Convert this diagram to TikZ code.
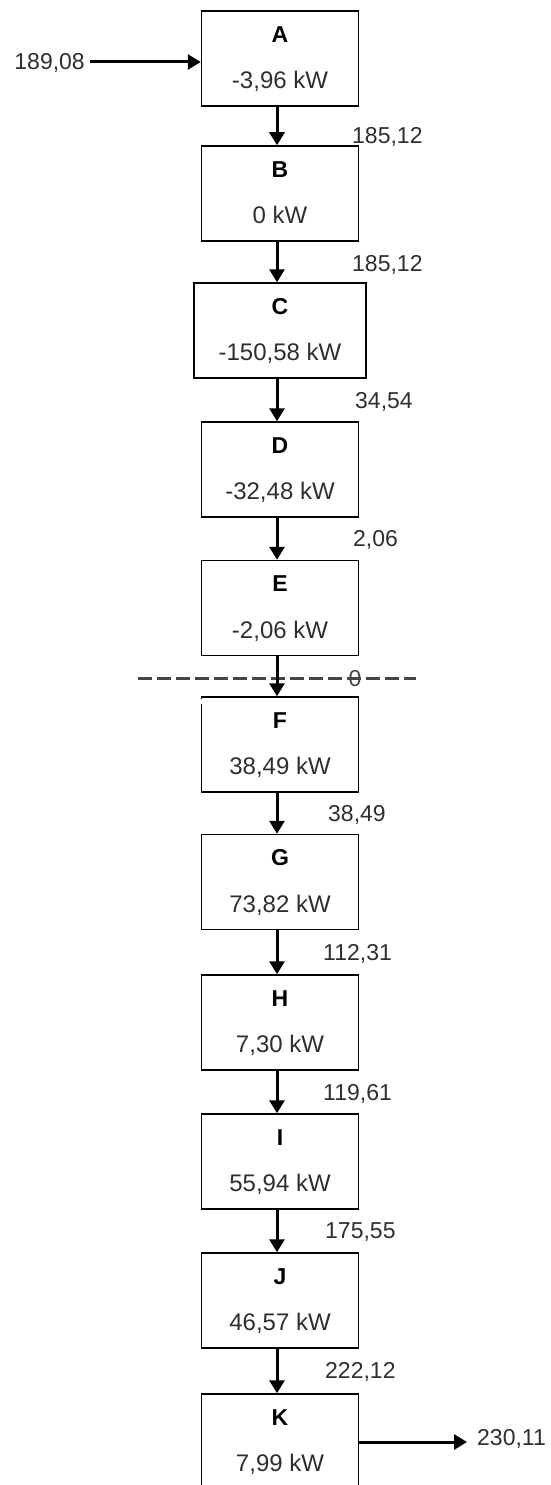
\documentclass[tikz,border=0pt]{standalone}
\usepackage{fontspec}
\setmainfont{Liberation Sans}
\usetikzlibrary{arrows.meta,calc}
\definecolor{txtgray}{HTML}{2E2E2E}
\definecolor{cutgray}{HTML}{454545}
\begin{document}
\begin{tikzpicture}[x=1pt,y=-1pt,
  box/.style={draw=black,line width=1.5pt,minimum width=157pt,minimum height=95pt,inner sep=0pt},
  widebox/.style={box,minimum width=172pt},
  ttl/.style={anchor=base,inner sep=0pt,font=\fontsize{23}{27}\selectfont\bfseries,text=black},
  val/.style={anchor=base,inner sep=0pt,font=\fontsize{24}{28}\selectfont,text=txtgray},
  lab/.style={anchor=base west,inner sep=0pt,font=\fontsize{23}{27}\selectfont,text=txtgray},
  flow/.style={line width=3pt,-{Triangle[length=13pt,width=15pt]}},
  cutline/.style={draw=cutgray,line width=3pt,dash pattern=on 14pt off 5pt}
]
\useasboundingbox (0,0) rectangle (551,1485);

% boxes
\node[box] (A) at (280,58.5) {};
\node[box] (B) at (280,193.5) {};
\node[widebox] (C) at (280,330.5) {};
\node[box] (D) at (280,469.5) {};
\node[box] (E) at (280,608) {};
\node[box] (F) at (280,744.5) {};
\node[box] (G) at (280,882) {};
\node[box] (H) at (280,1022.5) {};
\node[box] (I) at (280,1161.5) {};
\node[box] (J) at (280,1300.5) {};
\node[box] (K) at (280,1441.5) {};

% small gap at top of left edge of F
\draw[white,line width=2.2pt] ($(F.north west)+(0,2.5)$) -- ($(F.north west)+(0,8)$);

% box texts
\foreach \n/\v in {A/{-3,96 kW},B/{0 kW},C/{-150,58 kW},D/{-32,48 kW},E/{-2,06 kW},F/{38,49 kW},G/{73,82 kW},H/{7,30 kW},I/{55,94 kW},J/{46,57 kW},K/{7,99 kW}}{
  \node[ttl] (\n t) at ($(\n.north)+(0,32)$) {\n};
  \node[val] (\n v) at ($(\n.north)+(0,78.5)$) {\v};
}

% dashed cut line
\coordinate (dl) at (138,678);
\coordinate (dr) at (416,678);
\draw[cutline] (dl) -- (dr);

% vertical flows
\foreach \a/\b in {A/B,B/C,C/D,D/E,E/F,F/G,G/H,H/I,I/J,J/K}{
  \draw[flow] ($(\a.south)+(-3,0)$) -- ($(\b.north)+(-3,0)$);
}

% flow labels
\node[lab] (l1) at (352,143) {185,12};
\node[lab] (l2) at (352,271) {185,12};
\node[lab] (l3) at (355,408) {34,54};
\node[lab] (l4) at (353,546) {2,06};
\node[anchor=base,inner sep=0pt,font=\fontsize{23}{27}\selectfont,text=cutgray] (l5) at (355,686) {0};
\node[lab] (l6) at (328,821) {38,49};
\node[lab] (l7) at (323,960) {112,31};
\node[lab] (l8) at (323,1100) {119,61};
\node[lab] (l9) at (325,1238) {175,55};
\node[lab] (l10) at (325,1378) {222,12};

% input
\node[lab,anchor=base east] (inl) at (85,70) {189,08};
\coordinate (inS) at (90,62);
\draw[flow] (inS) -- (inS -| A.west);

% output
\coordinate (outE) at (467,1442);
\draw[flow] (outE -| K.east) -- (outE);
\node[lab] (outl) at (477,1445) {230,11};
\end{tikzpicture}
\end{document}
